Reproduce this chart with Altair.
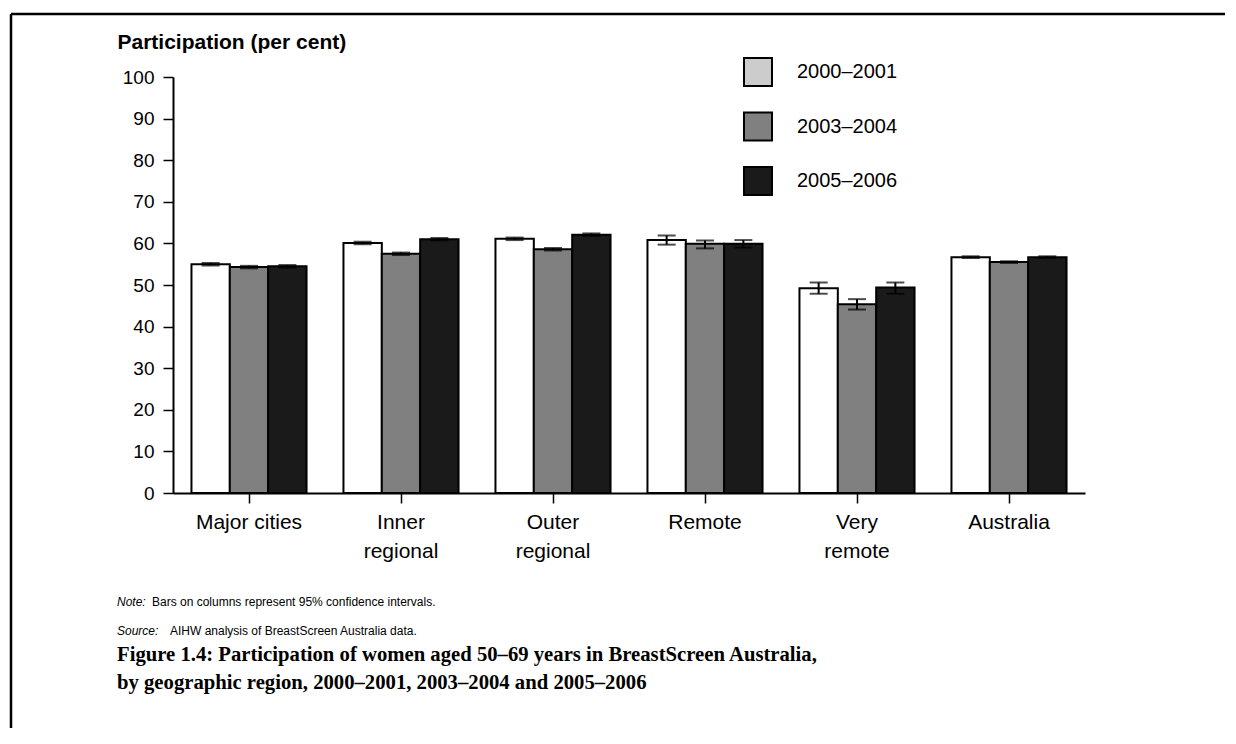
import altair as alt
import pandas as pd

regions = ["Major cities", "Inner regional", "Outer regional", "Remote", "Very remote", "Australia"]
periods = ["2000–2001", "2003–2004", "2005–2006"]

# participation (per cent), per period, in region order
p2000 = [55.0, 60.1, 61.1, 60.8, 49.2, 56.7]
p2003 = [54.3, 57.5, 58.6, 59.9, 45.4, 55.5]
p2005 = [54.5, 61.0, 62.1, 59.9, 49.4, 56.7]

# 95% confidence intervals
lo2000 = [54.7, 59.8, 60.8, 59.7, 47.9, 56.5]
hi2000 = [55.3, 60.4, 61.4, 61.9, 50.6, 56.9]
lo2003 = [54.0, 57.2, 58.3, 58.8, 44.1, 55.3]
hi2003 = [54.6, 57.8, 58.9, 60.7, 46.6, 55.7]
lo2005 = [54.2, 60.7, 61.8, 59.0, 47.9, 56.5]
hi2005 = [54.8, 61.3, 62.4, 60.8, 50.6, 56.9]

note_label = ["Note:"]
note_text = ["Bars on columns represent 95% confidence intervals."]
source_label = ["Source:"]
source_text = ["AIHW analysis of BreastScreen Australia data."]
caption_1 = ["Figure 1.4: Participation of women aged 50–69 years in BreastScreen Australia,"]
caption_2 = ["by geographic region, 2000–2001, 2003–2004 and 2005–2006"]

rows = []
for per, vals, los, his in [
    (periods[0], p2000, lo2000, hi2000),
    (periods[1], p2003, lo2003, hi2003),
    (periods[2], p2005, lo2005, hi2005),
]:
    for r, v, l, h in zip(regions, vals, los, his):
        rows.append({"region": r, "period": per, "value": v, "lo": l, "hi": h})
df = pd.DataFrame(rows)

FONT = "Liberation Sans"

x_enc = alt.X(
    "region:N",
    sort=regions,
    scale=alt.Scale(paddingInner=0.243, paddingOuter=0.1215),
    axis=alt.Axis(
        title=None,
        labelAngle=0,
        labelFontSize=21,
        labelFont=FONT,
        labelColor="black",
        labelLineHeight=29,
        labelPadding=8,
        tickSize=10,
        tickColor="black",
        tickWidth=1.5,
        domainColor="black",
        domainWidth=2,
        labelExpr="(datum.label == 'Major cities') ? datum.label : split(datum.label, ' ')",
    ),
)
xoff = alt.XOffset("period:N", sort=periods, scale=alt.Scale(paddingInner=0, paddingOuter=0))

y_axis = alt.Axis(
    values=list(range(0, 101, 10)),
    title="Participation (per cent)",
    titleAngle=0,
    titleAlign="left",
    titleBaseline="alphabetic",
    titleX=-56,
    titleY=-29,
    titleFontSize=21,
    titleFontWeight="bold",
    titleFont=FONT,
    titleColor="black",
    labelFontSize=19,
    labelFont=FONT,
    labelColor="black",
    labelPadding=9,
    tickSize=10,
    tickColor="black",
    tickWidth=1.5,
    domainColor="black",
    domainWidth=2,
    grid=False,
)
y_scale = alt.Scale(domain=[0, 100], nice=False)

legend = alt.Legend(
    title=None,
    orient="none",
    legendX=570,
    legendY=-20,
    direction="vertical",
    symbolType="square",
    symbolSize=784,
    symbolStrokeColor="black",
    symbolStrokeWidth=2,
    symbolOpacity=1,
    labelFontSize=20,
    labelFont=FONT,
    labelColor="black",
    labelOffset=24,
    rowPadding=18.5,
)

bars = alt.Chart(df).mark_bar(stroke="black", strokeWidth=2).encode(
    x=x_enc,
    xOffset=xoff,
    y=alt.Y("value:Q", scale=y_scale, axis=y_axis),
    fill=alt.Fill(
        "period:N",
        sort=periods,
        scale=alt.Scale(domain=periods, range=["#ffffff", "#808080", "#1a1a1a"]),
        legend=None,
    ),
)

# invisible layer that only carries the legend (legend swatch for 2000–2001 is light grey)
legend_layer = alt.Chart(df).mark_bar(opacity=0, stroke="black").encode(
    x=alt.X("region:N", sort=regions),
    xOffset=xoff,
    y=alt.Y("value:Q", scale=y_scale),
    fill=alt.Fill(
        "period:N",
        sort=periods,
        scale=alt.Scale(domain=periods, range=["#cccccc", "#808080", "#1a1a1a"]),
        legend=legend,
    ),
)

err = alt.Chart(df).mark_rule(color="black", strokeWidth=2).encode(
    x=alt.X("region:N", sort=regions),
    xOffset=xoff,
    y="lo:Q",
    y2="hi:Q",
)
cap_lo = alt.Chart(df).mark_tick(color="black", thickness=2, size=18).encode(
    x=alt.X("region:N", sort=regions), xOffset=xoff, y="lo:Q"
)
cap_hi = alt.Chart(df).mark_tick(color="black", thickness=2, size=18).encode(
    x=alt.X("region:N", sort=regions), xOffset=xoff, y="hi:Q"
)

one = pd.DataFrame({"a": [0]})
frame_top = alt.Chart(one).mark_rule(color="black", strokeWidth=2.5).encode(
    x=alt.value(-162), x2=alt.value(1080), y=alt.value(-63)
)
frame_left = alt.Chart(one).mark_rule(color="black", strokeWidth=2.5).encode(
    x=alt.value(-162), y=alt.value(-63), y2=alt.value(700)
)


def txt(lines, x, y, size, style="normal", weight="normal", font=FONT):
    return alt.Chart(pd.DataFrame({"t": lines})).mark_text(
        align="left", baseline="middle", fontSize=size, fontStyle=style,
        fontWeight=weight, font=font, color="black"
    ).encode(x=alt.value(x), y=alt.value(y), text="t:N")


annots = [
    txt(note_label, -56, 525, 12, style="italic"),
    txt(note_text, -21, 525, 12),
    txt(source_label, -56, 554, 12, style="italic"),
    txt(source_text, -3, 554, 12),
    txt(caption_1, -56, 578, 20.7, weight="bold", font="Liberation Serif"),
    txt(caption_2, -56, 606, 20.7, weight="bold", font="Liberation Serif"),
]

chart = alt.layer(bars, legend_layer, err, cap_lo, cap_hi, frame_top, frame_left, *annots).resolve_scale(
    fill="independent"
).properties(
    width=912,
    height=416,
    padding={"left": 165, "top": 69, "right": 140, "bottom": 235},
    autosize=alt.AutoSizeParams(type="none"),
).configure(font=FONT).configure_view(stroke=None)

chart.save("out.html", embed_options={"renderer": "svg", "actions": False})
